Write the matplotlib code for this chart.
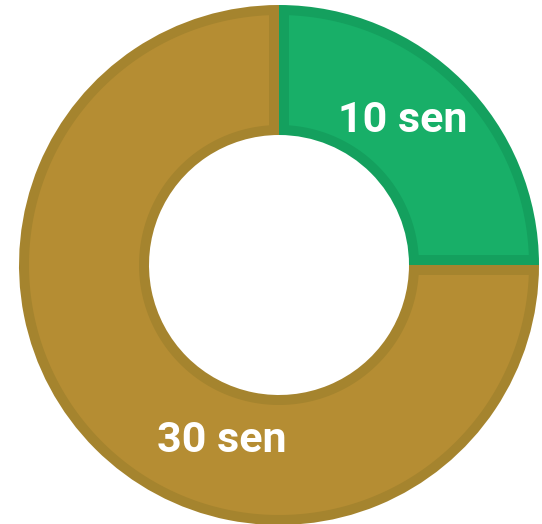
import numpy as np
import matplotlib.pyplot as plt
from matplotlib.patches import Polygon

labels = ['10 sen', '30 sen']
values = [10, 30]
fill_colors = ['#18AF68', '#B58D33']
edge_colors = ['#14A05E', '#A5842E']

fig = plt.figure(figsize=(5.42, 5.24), dpi=100)
ax = fig.add_axes([0, 0, 1, 1])

cx, cy = 279, 524 - 265
R, W, d = 260, 130, 10
wedges, _ = ax.pie(values, center=(cx, cy), radius=R, startangle=90, counterclock=False,
                   colors=edge_colors, wedgeprops=dict(width=W, linewidth=0), frame=True)


def inset_wedge(w, d):
    # wedge shape shrunk inward by d pixels on every side
    t1, t2 = sorted([w.theta1, w.theta2])
    ro, ri = w.r - d, w.r - w.width + d
    ao = np.degrees(np.arcsin(d / ro))
    ai = np.degrees(np.arcsin(d / ri))
    a_out = np.radians(np.linspace(t1 + ao, t2 - ao, 200))
    a_in = np.radians(np.linspace(t2 - ai, t1 + ai, 200))
    xs = np.concatenate([w.center[0] + ro * np.cos(a_out), w.center[0] + ri * np.cos(a_in)])
    ys = np.concatenate([w.center[1] + ro * np.sin(a_out), w.center[1] + ri * np.sin(a_in)])
    return np.column_stack([xs, ys])


for w, fc in zip(wedges, fill_colors):
    ax.add_patch(Polygon(inset_wedge(w, d), closed=True, facecolor=fc, edgecolor='none'))

ax.set_xlim(0, 542)
ax.set_ylim(0, 524)
ax.set_aspect('auto')
ax.axis('off')

# label positions in pixels
pos = [(403, 524 - 120), (222, 524 - 440)]
for lab, (x, y) in zip(labels, pos):
    ax.text(x, y, lab, ha='center', va='center', color='white',
            fontsize=31, fontweight='bold', family='Roboto')

fig.savefig('out.png', dpi=100)
